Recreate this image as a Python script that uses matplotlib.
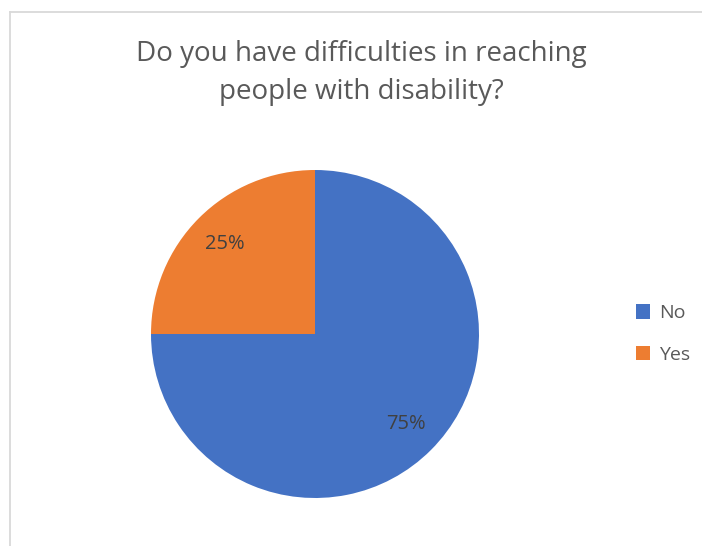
import matplotlib.pyplot as plt
from matplotlib.lines import Line2D

labels = ["No", "Yes"]
shares = [75, 25]
colors = ["#4472C4", "#ED7D31"]
title = "Do you have difficulties in reaching\npeople with disability?"

W, H = 702, 546
fig = plt.figure(figsize=(W / 100, H / 100), dpi=100)
plt.rcParams['font.family'] = ['Open Sans', 'DejaVu Sans']
txt = "#595959"

# chart border (left and top edges visible)
fig.add_artist(Line2D([9.5 / W, 9.5 / W], [0, 1 - 11.5 / H], color="#D9D9D9", lw=1.3,
                      transform=fig.transFigure))
fig.add_artist(Line2D([9.5 / W, 1], [1 - 11.5 / H, 1 - 11.5 / H], color="#D9D9D9", lw=1.3,
                      transform=fig.transFigure))

cx, cy, r = 315, 334, 164
ax = fig.add_axes([(cx - r) / W, (H - cy - r) / H, 2 * r / W, 2 * r / H])
wedges, texts, autotexts = ax.pie(shares, colors=colors, startangle=90, counterclock=False,
                                  autopct="%1.0f%%", pctdistance=0.78,
                                  wedgeprops=dict(linewidth=0),
                                  textprops=dict(color="#404040", fontsize=14.5))
ax.set_xlim(-1, 1)
ax.set_ylim(-1, 1)
ax.set_aspect("equal")
ax.axis("off")

fig.text(361 / W, 1 - 73 / H, title, ha="center", va="center", fontsize=20,
         color=txt, linespacing=1.5)

leg = fig.legend(wedges, labels, loc="center left", bbox_to_anchor=(618 / W, 1 - 334 / H),
                 frameon=False, fontsize=14, handlelength=0.75, handleheight=0.75,
                 handletextpad=0.45, labelspacing=1.2, labelcolor=txt)

plt.savefig("out.png", dpi=100)
